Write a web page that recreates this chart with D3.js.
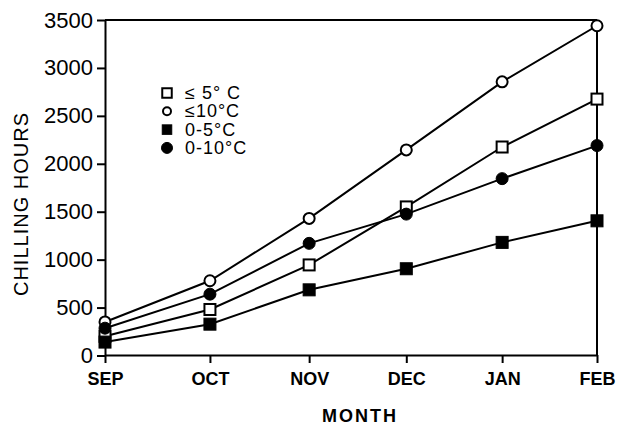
<!DOCTYPE html>
<head>
<meta charset="utf-8">
<style>
    body { margin: 0; background: #fff; }
    text { font-family: "Liberation Sans", Arial, sans-serif; fill: #000; }
</style>
<script src="https://d3js.org/d3.v7.min.js"></script>
</head>
<body>
<script>
// months along the x axis
var months = ["SEP", "OCT", "NOV", "DEC", "JAN", "FEB"];
var yTicks = [0, 500, 1000, 1500, 2000, 2500, 3000, 3500];

// chilling hours
var le5 = [200, 480, 945, 1550, 2175, 2675];
var le10 = [350, 780, 1430, 2145, 2855, 3440];
var r0to5 = [140, 327, 685, 905, 1180, 1405];
var r0to10 = [285, 640, 1170, 1475, 1845, 2190];

var seriesNames = ["\u2264 5\u00b0 C", "\u226410\u00b0C", "0-5\u00b0C", "0-10\u00b0C"];
var seriesValues = [le5, le10, r0to5, r0to10];
var seriesShape = ["square", "circle", "square", "circle"];
var seriesFilled = [false, false, true, true];

var margin = {top: 20, right: 24, bottom: 72, left: 105};
var width = 621 - margin.left - margin.right,
    height = 427 - margin.top - margin.bottom;

var svg = d3.select("body").append("svg")
    .attr("width", 621)
    .attr("height", 427);

svg.append("rect").attr("width", 621).attr("height", 427).attr("fill", "#fff");

var g = svg.append("g")
    .attr("transform", "translate(" + margin.left + "," + margin.top + ")");

// the scanned axis is slightly compressed towards the right
var x = d3.scalePow()
    .exponent(0.96)
    .domain([0, months.length - 1])
    .range([0, width]);

var y = d3.scaleLinear()
    .domain([0, 3500])
    .range([height + 0.5, 0]);

// frame top and right
g.append("line")
    .attr("x1", 0).attr("x2", width)
    .attr("y1", 0).attr("y2", 0)
    .attr("stroke", "#000").attr("stroke-width", 2);
g.append("line")
    .attr("x1", width).attr("x2", width)
    .attr("y1", 0).attr("y2", height)
    .attr("stroke", "#000").attr("stroke-width", 2);

var yAxis = g.append("g")
    .call(d3.axisLeft(y)
        .tickValues(yTicks)
        .tickFormat(d3.format("d"))
        .tickSize(8)
        .tickSizeOuter(0)
        .tickPadding(4))
    .attr("font-size", 22)
    .attr("font-family", "Liberation Sans, Arial, sans-serif");

var xAxis = g.append("g")
    .attr("transform", "translate(0," + height + ")")
    .call(d3.axisBottom(x)
        .tickValues(d3.range(months.length))
        .tickFormat(function(i) { return months[i]; })
        .tickSize(8)
        .tickSizeOuter(0)
        .tickPadding(9))
    .attr("font-size", 18)
    .attr("font-weight", "bold")
    .attr("font-family", "Liberation Sans, Arial, sans-serif");

[yAxis, xAxis].forEach(function(a) {
    a.selectAll("path, line").attr("stroke", "#000").attr("stroke-width", 2);
    a.selectAll("text").attr("fill", "#000");
});

// axis titles
svg.append("text")
    .attr("transform", "translate(28,204) rotate(-90)")
    .attr("text-anchor", "middle")
    .style("font-size", "20px")
    .style("letter-spacing", "1px")
    .text("CHILLING HOURS");

svg.append("text")
    .attr("x", 360)
    .attr("y", 422)
    .attr("text-anchor", "middle")
    .style("font-size", "18px")
    .style("font-weight", "bold")
    .style("letter-spacing", "2px")
    .text("MONTH");

var line = d3.line()
    .x(function(d, i) { return x(i); })
    .y(function(d) { return y(d); });

function drawMarker(sel, shape, filled, size) {
    if (shape == "square") {
        sel.append("rect")
            .attr("x", -size / 2).attr("y", -size / 2)
            .attr("width", size).attr("height", size)
            .attr("fill", filled ? "#000" : "#fff")
            .attr("stroke", "#000").attr("stroke-width", filled ? 1 : 2);
    } else {
        sel.append("circle")
            .attr("r", size / 2)
            .attr("fill", filled ? "#000" : "#fff")
            .attr("stroke", "#000").attr("stroke-width", filled ? 1 : 2);
    }
}

seriesValues.forEach(function(vals) {
    g.append("path")
        .datum(vals)
        .attr("fill", "none")
        .attr("stroke", "#000")
        .attr("stroke-width", 2)
        .attr("d", line);
});

seriesValues.forEach(function(vals, s) {
    g.selectAll(null)
        .data(vals)
        .enter().append("g")
        .attr("transform", function(d, i) { return "translate(" + x(i) + "," + y(d) + ")"; })
        .each(function() { drawMarker(d3.select(this), seriesShape[s], seriesFilled[s], seriesFilled[s] ? 12 : 11); });
});

// legend
var legend = svg.append("g").attr("transform", "translate(167,93)");
seriesNames.forEach(function(name, s) {
    var row = legend.append("g").attr("transform", "translate(0," + (s * 18.3) + ")");
    var mk = row.append("g");
    drawMarker(mk, seriesShape[s], seriesFilled[s], seriesShape[s] == "circle" ? (seriesFilled[s] ? 11 : 8) : 9.5);
    row.append("text")
        .attr("x", 18)
        .attr("y", 6)
        .style("font-size", "18px")
        .style("letter-spacing", "1px")
        .text(name);
});
</script>
</body>
